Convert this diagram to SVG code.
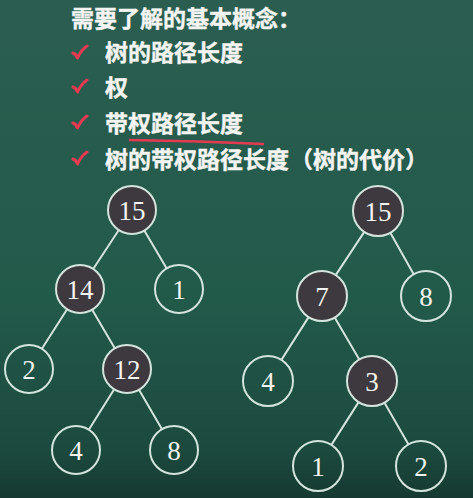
<svg xmlns="http://www.w3.org/2000/svg" width="473" height="498" viewBox="0 0 473 498">
<defs>
<linearGradient id="bg" x1="0" y1="0" x2="0" y2="1">
<stop offset="0" stop-color="#2b5e50"/>
<stop offset="0.6" stop-color="#225a4a"/>
<stop offset="0.9" stop-color="#1c4a3e"/>
<stop offset="1" stop-color="#163a31"/>
</linearGradient>
<path id="tick" d="M0,6 Q3,7 4.5,11 Q8,3 14,-1" fill="none" stroke="#e43a52" stroke-width="3" stroke-linecap="round" stroke-linejoin="round"/>
</defs>
<style>
.t{font-family:"Noto Sans CJK SC","Noto Sans",sans-serif;font-weight:bold;font-size:23px;fill:#f4f4f2;stroke:#f4f4f2;stroke-width:0.4}
.n circle{stroke:#d4e4de;stroke-width:2}
.dark{fill:#3e393e}
.leaf{fill:none}
.n text{font-family:"Liberation Serif","DejaVu Serif","Times New Roman",serif;font-size:27px;fill:#f4f4f2;text-anchor:middle}
.e line{stroke:#d4e4de;stroke-width:2}
</style>
<rect width="473" height="498" fill="url(#bg)"/>
<g id="text">
<text class="t" x="71" y="27">需要了解的基本概念：</text>
<use href="#tick" x="73" y="47"/>
<text class="t" x="105" y="61">树的路径长度</text>
<use href="#tick" x="73" y="81"/>
<text class="t" x="105" y="96">权</text>
<use href="#tick" x="73" y="117"/>
<text class="t" x="105" y="132">带权路径长度</text>
<path d="M130,140 Q200,141 263,144" fill="none" stroke="#e43a52" stroke-width="2.5" stroke-linecap="round"/>
<use href="#tick" x="73" y="153"/>
<text class="t" x="105" y="168">树的带权路径长度<tspan x="290">（</tspan><tspan x="313">树的代价</tspan><tspan x="405">）</tspan></text>
</g>
<g id="connectors" class="e">
<line x1="118.8" y1="230.0" x2="93.2" y2="269.0"/>
<line x1="144.3" y1="230.6" x2="166.7" y2="268.4"/>
<line x1="67.1" y1="309.2" x2="41.9" y2="348.8"/>
<line x1="92.2" y1="309.7" x2="114.8" y2="348.3"/>
<line x1="114.2" y1="389.3" x2="88.8" y2="429.7"/>
<line x1="139.0" y1="389.8" x2="162.0" y2="429.2"/>
<line x1="364.3" y1="231.9" x2="335.7" y2="275.1"/>
<line x1="390.3" y1="232.8" x2="413.7" y2="274.2"/>
<line x1="308.6" y1="317.1" x2="281.4" y2="359.9"/>
<line x1="334.7" y1="317.6" x2="359.3" y2="359.4"/>
<line x1="358.6" y1="402.1" x2="331.4" y2="444.9"/>
<line x1="384.5" y1="402.7" x2="408.5" y2="444.4"/>
</g>
<g id="L15" class="n"><circle class="dark" cx="132" cy="210" r="24"/><text x="132" y="219.5">15</text></g>
<g id="L14" class="n"><circle class="dark" cx="80" cy="289" r="24"/><text x="80" y="298.5">14</text></g>
<g id="L1" class="n"><circle class="leaf" cx="179" cy="289" r="24"/><text x="179" y="298.5">1</text></g>
<g id="L2" class="n"><circle class="leaf" cx="29" cy="369" r="24"/><text x="29" y="378.5">2</text></g>
<g id="L12" class="n"><circle class="dark" cx="127" cy="369" r="24"/><text x="127" y="378.5">12</text></g>
<g id="L4" class="n"><circle class="leaf" cx="76" cy="450" r="24"/><text x="76" y="459.5">4</text></g>
<g id="L8" class="n"><circle class="leaf" cx="174" cy="450" r="24"/><text x="174" y="459.5">8</text></g>
<g id="R15" class="n"><circle class="dark" cx="378" cy="211" r="25"/><text x="378" y="220.5">15</text></g>
<g id="R7" class="n"><circle class="dark" cx="322" cy="296" r="25"/><text x="322" y="305.5">7</text></g>
<g id="R8" class="n"><circle class="leaf" cx="426" cy="296" r="25"/><text x="426" y="305.5">8</text></g>
<g id="R4" class="n"><circle class="leaf" cx="268" cy="381" r="25"/><text x="268" y="390.5">4</text></g>
<g id="R3" class="n"><circle class="dark" cx="372" cy="381" r="25"/><text x="372" y="390.5">3</text></g>
<g id="R1" class="n"><circle class="leaf" cx="318" cy="466" r="25"/><text x="318" y="475.5">1</text></g>
<g id="R2" class="n"><circle class="leaf" cx="421" cy="466" r="25"/><text x="421" y="475.5">2</text></g>
</svg>
